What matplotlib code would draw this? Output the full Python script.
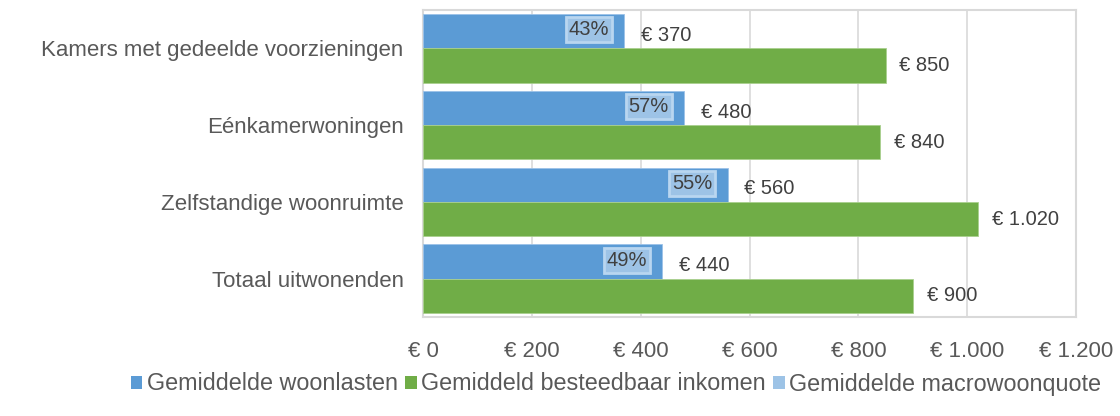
import matplotlib
matplotlib.use("Agg")
import matplotlib.pyplot as plt
from matplotlib.patches import Patch
import numpy as np

plt.rcParams['font.family'] = ['Liberation Sans', 'DejaVu Sans']

categories = ["Kamers met gedeelde voorzieningen", "Eénkamerwoningen",
              "Zelfstandige woonruimte", "Totaal uitwonenden"]
woonlasten = [370, 480, 560, 440]
inkomen = [850, 840, 1020, 900]
woonquote = [43, 57, 55, 49]
xticks = [0, 200, 400, 600, 800, 1000, 1200]
xtick_labels = ["€ 0", "€ 200", "€ 400", "€ 600", "€ 800", "€ 1.000", "€ 1.200"]
series_names = ["Gemiddelde woonlasten", "Gemiddeld besteedbaar inkomen",
                "Gemiddelde macrowoonquote"]

BLUE = "#5B9BD5"
GREEN = "#70AD47"
LIGHT = "#9DC3E6"
TXT = "#595959"
DARK = "#404040"

def eur(v):
    s = f"{v:,}".replace(",", ".")
    return f"€ {s}"

fig = plt.figure(figsize=(11.2, 4.16), dpi=100)
ax = fig.add_axes([423/1120, 1-317/416, (1076-423)/1120, (317-10)/416])

n = len(categories)
y = np.arange(n)[::-1].astype(float)
h = 0.447
ax.barh(y + h/2, woonlasten, height=h, color=BLUE, edgecolor="#9CC2E8", linewidth=0.6, zorder=3)
ax.barh(y - h/2, inkomen, height=h, color=GREEN, edgecolor="#A9D08E", linewidth=0.6, zorder=3)

for yi, v, q in zip(y, woonlasten, woonquote):
    ax.annotate(eur(v), (v, yi + h/2), xytext=(12, -3), textcoords="offset points",
                ha="left", va="center", fontsize=14.5, color=DARK)
    ax.annotate(f"{q}%", (v, yi + h/2), xytext=(-11, 1), textcoords="offset points",
                ha="right", va="center", fontsize=14.5, color=DARK, zorder=5,
                bbox=dict(boxstyle="square,pad=0.15", facecolor=LIGHT, edgecolor="#B9D6F0", linewidth=2))
for yi, v in zip(y, inkomen):
    ax.annotate(eur(v), (v, yi - h/2), xytext=(10, 0), textcoords="offset points",
                ha="left", va="center", fontsize=14.5, color=DARK)

ax.set_xlim(0, 1200)
ax.set_ylim(-0.5, n - 0.5)
ax.set_xticks(xticks)
ax.set_xticklabels(xtick_labels, fontsize=16, color=TXT)
ax.set_yticks(y)
ax.set_yticklabels(categories, fontsize=16, color=TXT)
ax.tick_params(axis="both", length=0)
ax.tick_params(axis="x", pad=17)
ax.tick_params(axis="y", pad=14)
ax.grid(axis="x", color="#D9D9D9", linewidth=1.2, zorder=0)
for s in ax.spines.values():
    s.set_color("#D9D9D9")
    s.set_linewidth(1.5)

handles = [Patch(facecolor=BLUE, label=series_names[0]),
           Patch(facecolor=GREEN, label=series_names[1]),
           Patch(facecolor=LIGHT, label=series_names[2])]
leg = fig.legend(handles=handles, loc="center", bbox_to_anchor=(616/1120, 1-384/416),
                 ncol=3, frameon=False, fontsize=16.8, handlelength=0.5, handleheight=0.5,
                 handletextpad=0.2, columnspacing=0.3)
for t in leg.get_texts():
    t.set_color(TXT)

fig.savefig("out.png", dpi=100)
